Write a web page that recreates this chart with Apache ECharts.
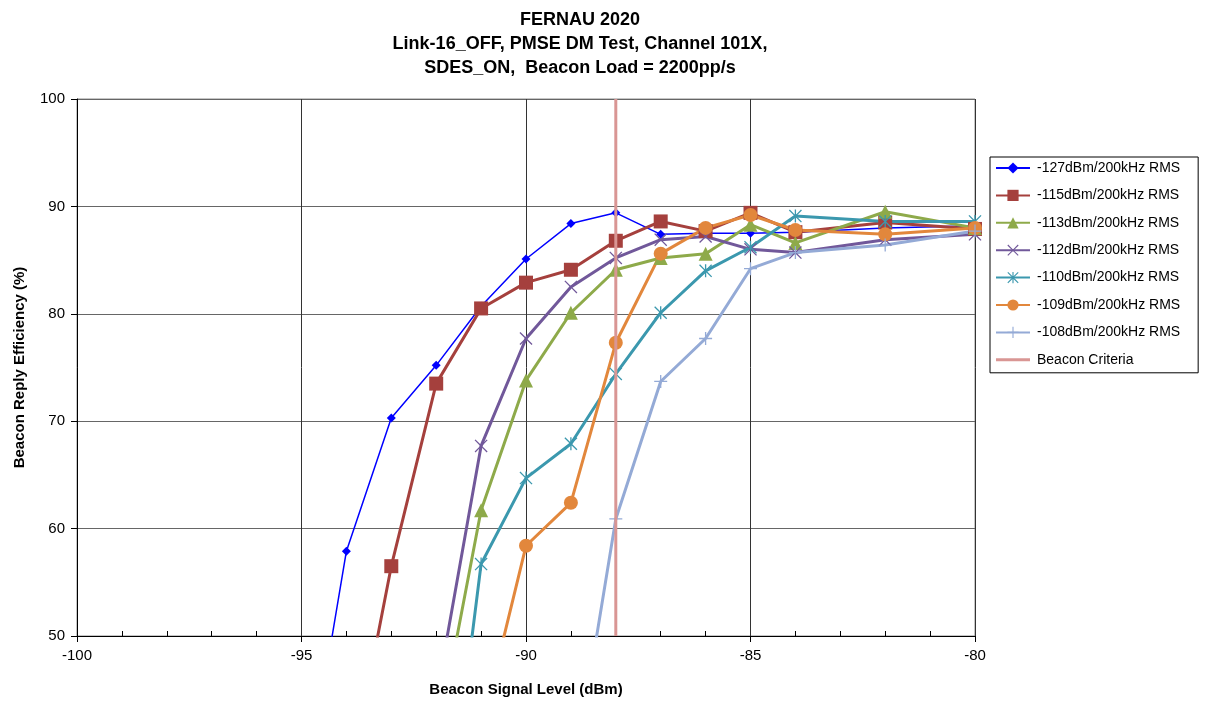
<!DOCTYPE html>
<html>
<head>
<meta charset="utf-8">
<script src="https://cdn.jsdelivr.net/npm/echarts@6/dist/echarts.min.js"></script>
<style>
  html, body { margin: 0; padding: 0; background: #fff; }
  #chart { width: 1211px; height: 702px; }
</style>
</head>
<body>
<div id="chart"></div>
<script>
// Beacon signal level (dBm) at each measured step
const levels = [-95, -94, -93, -92, -91, -90, -89, -88, -87, -86, -85, -84, -82, -80];

// Beacon reply efficiency (%) per PMSE interference level; null = not measured
const eff127 = [33,   57.9, 70.3, 75.2, 80.7, 85.1, 88.4, 89.4, 87.4, 87.5, 87.5, 87.6, 88.0, 88.2];
const eff115 = [null, 35,   56.5, 73.5, 80.5, 82.9, 84.1, 86.8, 88.6, 87.7, 89.4, 87.6, 88.5, 87.9];
const eff113 = [null, null, null, 39.8, 61.7, 73.8, 80.1, 84.1, 85.2, 85.6, 88.3, 86.6, 89.5, 88.0];
const eff112 = [null, null, null, 44.2, 67.7, 77.7, 82.5, 85.2, 86.9, 87.2, 86.0, 85.7, 86.9, 87.4];
const eff110 = [null, null, null, 23.3, 56.7, 64.7, 67.9, 74.4, 80.1, 84.0, 86.2, 89.1, 88.6, 88.6];
const eff109 = [null, null, null, null, 41.2, 58.4, 62.4, 77.3, 85.6, 88.0, 89.2, 87.8, 87.4, 88.0];
const eff108 = [null, null, null, null, null, null, 35.3, 60.9, 73.7, 77.7, 84.2, 85.7, 86.4, 87.7];

// Beacon acceptance criterion (dBm)
const criteriaLevel = -88;

const seriesNames = [
  '-127dBm/200kHz RMS', '-115dBm/200kHz RMS', '-113dBm/200kHz RMS',
  '-112dBm/200kHz RMS', '-110dBm/200kHz RMS', '-109dBm/200kHz RMS',
  '-108dBm/200kHz RMS'
];
const criteriaName = 'Beacon Criteria';

const FONT = '"Liberation Sans", Arial, sans-serif';

// Stroke-like marker shapes built as thin filled outlines
const SYM_X = 'path://M-10,-8.6 L-8.6,-10 L0,-1.4 L8.6,-10 L10,-8.6 L1.4,0 L10,8.6 L8.6,10 L0,1.4 L-8.6,10 L-10,8.6 L-1.4,0 Z';
const SYM_STAR = SYM_X + ' M-1,-10 L1,-10 L1,10 L-1,10 Z';
const SYM_PLUS = 'path://M-1,-10 L1,-10 L1,-1 L10,-1 L10,1 L1,1 L1,10 L-1,10 L-1,1 L-10,1 L-10,-1 L-1,-1 Z';
// Plain bar used as the legend key of the criterion line
const ICON_BAR = 'path://M0,0 L34,0 L34,3 L0,3 Z';

function pairs(values) {
  return levels.map((x, i) => [x, values[i]]).filter(p => p[1] !== null);
}

function lineSeries(name, values, color, width, symbol, size) {
  return {
    name: name,
    type: 'line',
    data: pairs(values),
    color: color,
    symbol: symbol,
    symbolSize: size,
    showAllSymbol: true,
    clip: true,
    lineStyle: { color: color, width: width },
    itemStyle: { color: color, borderWidth: 0 },
    emphasis: { disabled: true },
    animation: false
  };
}

const series = [
  lineSeries(seriesNames[0], eff127, '#0000FF', 1.5, 'diamond', 9),
  lineSeries(seriesNames[1], eff115, '#A5403D', 3, 'rect', 14),
  lineSeries(seriesNames[2], eff113, '#8EAA4A', 3, 'triangle', 14),
  lineSeries(seriesNames[3], eff112, '#71589A', 3, SYM_X, 13),
  lineSeries(seriesNames[4], eff110, '#3B98AE', 3, SYM_STAR, 13),
  lineSeries(seriesNames[5], eff109, '#E2873C', 3, 'circle', 14),
  lineSeries(seriesNames[6], eff108, '#94AAD6', 3, SYM_PLUS, 13),
  {
    name: criteriaName,
    type: 'line',
    data: [[criteriaLevel, 50], [criteriaLevel, 100]],
    color: '#D99694',
    symbol: 'none',
    z: 5,
    lineStyle: { color: '#D99694', width: 3 },
    itemStyle: { color: '#D99694' },
    emphasis: { disabled: true },
    animation: false
  }
];

const legendData = seriesNames.map(n => ({ name: n }));
legendData.push({ name: criteriaName, icon: ICON_BAR, itemStyle: { color: '#D99694' } });

const chart = echarts.init(document.getElementById('chart'), null, { renderer: 'canvas' });
chart.setOption({
  backgroundColor: '#ffffff',
  animation: false,
  title: {
    text: 'FERNAU 2020\nLink-16_OFF, PMSE DM Test, Channel 101X,\nSDES_ON,  Beacon Load = 2200pp/s',
    left: 575,
    top: 3,
    textAlign: 'center',
    textStyle: {
      fontFamily: FONT, fontSize: 18, fontWeight: 'bold', color: '#000', lineHeight: 24
    }
  },
  grid: {
    left: 77, top: 99, right: 236, bottom: 64,
    show: true, borderColor: '#8c8c8c', borderWidth: 1, backgroundColor: '#fff'
  },
  legend: {
    orient: 'vertical',
    left: 990,
    top: 157,
    padding: [4, 18, 6, 5],
    itemWidth: 34,
    itemHeight: 14,
    itemGap: 13.4,
    backgroundColor: '#fff',
    borderColor: '#000',
    borderWidth: 1,
    borderRadius: 0,
    data: legendData,
    textStyle: { fontFamily: FONT, fontSize: 14, color: '#000', padding: [0, 0, 0, 2] }
  },
  xAxis: {
    type: 'value',
    min: -100,
    max: -80,
    interval: 5,
    name: 'Beacon Signal Level (dBm)',
    nameLocation: 'middle',
    nameGap: 46,
    nameTextStyle: { fontFamily: FONT, fontSize: 15, fontWeight: 'bold', color: '#000' },
    axisLine: { show: true, onZero: false, lineStyle: { color: '#000', width: 1 } },
    axisTick: { show: true, length: 6, lineStyle: { color: '#000' } },
    minorTick: { show: true, splitNumber: 5, length: -5, lineStyle: { color: '#000' } },
    axisLabel: { fontFamily: FONT, fontSize: 15, color: '#000', margin: 12 },
    splitLine: { show: true, lineStyle: { color: '#333', width: 1 } }
  },
  yAxis: {
    type: 'value',
    min: 50,
    max: 100,
    interval: 10,
    name: 'Beacon Reply Efficiency (%)',
    nameLocation: 'middle',
    nameGap: 50,
    nameTextStyle: { fontFamily: FONT, fontSize: 15, fontWeight: 'bold', color: '#000' },
    axisLine: { show: true, onZero: false, lineStyle: { color: '#000', width: 1 } },
    axisTick: { show: true, length: 6, lineStyle: { color: '#000' } },
    axisLabel: { fontFamily: FONT, fontSize: 15, color: '#000', margin: 12 },
    splitLine: { show: true, lineStyle: { color: '#666', width: 1 } }
  },
  series: series
});
</script>
</body>
</html>
